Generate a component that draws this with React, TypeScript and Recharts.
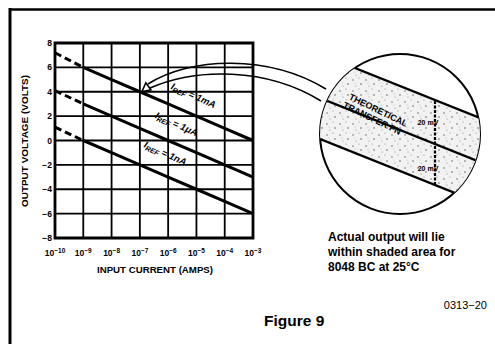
import React from "react";
import { LineChart, Line, XAxis, YAxis, CartesianGrid, ReferenceArea, ReferenceDot } from "recharts";

// Input current exponents (10^x A)
const exps = [-10, -9, -8, -7, -6, -5, -4, -3];
// Output voltage (V) for each IREF
const vRef1mA = [7.2, 6, 5, 4, 3, 2, 1, 0];
const vRef1uA = [4.1, 3, 2, 1, 0, -1, -2, -3];
const vRef1nA = [1.1, 0, -1, -2, -3, -4, -5, -6];
const yTicks = [-8, -6, -4, -2, 0, 2, 4, 6, 8];
const labels = [
  { name: "1mA", x: -5.15, y: 3.45 },
  { name: "1\u03bcA", x: -5.75, y: 1.1 },
  { name: "1nA", x: -6.15, y: -1.3 },
];

const rows = exps.map((e, i) => ({
  x: e,
  mAd: i <= 1 ? vRef1mA[i] : null,
  mAs: i >= 1 ? vRef1mA[i] : null,
  uAd: i <= 1 ? vRef1uA[i] : null,
  uAs: i >= 1 ? vRef1uA[i] : null,
  nAd: i <= 1 ? vRef1nA[i] : null,
  nAs: i >= 1 ? vRef1nA[i] : null,
}));

const FONT = "'Liberation Sans', Arial, Helvetica, sans-serif";

const XTick = (p: any) => {
  const n = Math.abs(p.payload.value);
  return (
    <text x={p.x} y={p.y + 10} textAnchor="middle" fontFamily={FONT} fontWeight="bold" fontSize={8.5} fill="#000">
      10
      <tspan dy={-3.5} fontSize={6.5}>{"\u2212" + n}</tspan>
    </text>
  );
};

const YTick = (p: any) => {
  const v = p.payload.value;
  const s = v < 0 ? "\u2212" + Math.abs(v) : String(v);
  return (
    <text x={p.x + 1} y={p.y + 3} textAnchor="end" fontFamily={FONT} fontWeight="bold" fontSize={8.5} fill="#000">
      {s}
    </text>
  );
};

const makeLabel = (name: string) => (p: any) => (
  <text
    transform={`translate(${p.cx},${p.cy}) rotate(24)`}
    textAnchor="middle"
    fontFamily={FONT}
    fontWeight="bold"
    fontStyle="italic"
    fontSize={9.5}
    fill="#000"
  >
    I<tspan dy={2} fontSize={7}>REF</tspan>
    <tspan dy={-2}>{" = " + name}</tspan>
  </text>
);

const Tri = (p: any) => (
  <polygon
    points={`${p.cx + 2},${p.cy} ${p.cx + 11},${p.cy - 2} ${p.cx + 6},${p.cy - 9}`}
    fill="#fff"
    stroke="#000"
    strokeWidth={1.6}
  />
);

export default function App() {
  const sw = 3;
  const dash = "7 4";
  return (
    <div style={{ position: "absolute", left: 0, top: 0, width: 495, height: 344, background: "#fff" }}>
      <LineChart width={495} height={344} data={rows} margin={{ top: 43, right: 242, bottom: 76, left: 15 }}>
        <CartesianGrid stroke="#000" strokeWidth={1.8} />
        <XAxis
          dataKey="x"
          type="number"
          domain={[-10, -3]}
          ticks={exps}
          tick={<XTick />}
          axisLine={false}
          tickLine={false}
          height={30}
          interval={0}
        />
        <YAxis
          type="number"
          domain={[-8, 8]}
          ticks={yTicks}
          tick={<YTick />}
          axisLine={false}
          tickLine={false}
          width={40}
          tickSize={0}
          tickMargin={4}
          interval={0}
        />
        <ReferenceArea x1={-10} x2={-3} y1={-8} y2={8} fill="none" stroke="#000" strokeWidth={2.8} />
        <Line dataKey="mAd" stroke="#000" strokeWidth={sw} strokeDasharray={dash} dot={false} isAnimationActive={false} />
        <Line dataKey="mAs" stroke="#000" strokeWidth={sw} dot={false} isAnimationActive={false} />
        <Line dataKey="uAd" stroke="#000" strokeWidth={sw} strokeDasharray={dash} dot={false} isAnimationActive={false} />
        <Line dataKey="uAs" stroke="#000" strokeWidth={sw} dot={false} isAnimationActive={false} />
        <Line dataKey="nAd" stroke="#000" strokeWidth={sw} strokeDasharray={dash} dot={false} isAnimationActive={false} />
        <Line dataKey="nAs" stroke="#000" strokeWidth={sw} dot={false} isAnimationActive={false} />
        {labels.map((l) => (
          <ReferenceDot key={l.name} x={l.x} y={l.y} r={0} shape={makeLabel(l.name)} />
        ))}
        <ReferenceDot x={-7} y={4} r={0} shape={Tri} />
      </LineChart>
      <svg
        width={495}
        height={344}
        style={{ position: "absolute", left: 0, top: 0, pointerEvents: "none" }}
      >
        <defs>
          <clipPath id="circ">
            <circle cx={400} cy={134} r={80} />
          </clipPath>
          <pattern id="stip" width={13} height={11} patternUnits="userSpaceOnUse">
            <rect width={13} height={11} fill="#f2f2f2" />
            <circle cx={2} cy={3} r={0.7} fill="#555" />
            <circle cx={8} cy={1} r={0.5} fill="#777" />
            <circle cx={10} cy={7} r={0.7} fill="#444" />
            <circle cx={5} cy={9} r={0.5} fill="#777" />
            <circle cx={4} cy={6} r={0.4} fill="#888" />
          </pattern>
        </defs>
        {/* frame */}
        <line x1={9} y1={9.5} x2={495} y2={9.5} stroke="#000" strokeWidth={2.5} />
        <line x1={10} y1={8} x2={10} y2={344} stroke="#000" strokeWidth={3} />
        {/* callout curves */}
        <path d="M148,84 C190,57 268,54 326,89" fill="none" stroke="#000" strokeWidth={1.6} />
        <path d="M150,88 C196,68 266,67 321,101" fill="none" stroke="#000" strokeWidth={1.6} />
        {/* inset */}
        <circle cx={400} cy={134} r={80} fill="#fff" stroke="#000" strokeWidth={2} />
        <g clipPath="url(#circ)">
          <polygon points="300,46 500,126 500,211 300,131" fill="url(#stip)" />
          <line x1={300} y1={46} x2={500} y2={126} stroke="#000" strokeWidth={2.2} />
          <line x1={300} y1={90} x2={500} y2={170} stroke="#000" strokeWidth={2.4} />
          <line x1={300} y1={131} x2={500} y2={211} stroke="#000" strokeWidth={2.2} />
        </g>
        <line x1={435} y1={101} x2={435} y2={185} stroke="#000" strokeWidth={2.2} strokeDasharray="3 1.5" />
        <text x={428} y={125} textAnchor="middle" fontFamily={FONT} fontWeight="bold" fontSize={7} fill="#000">20 mV</text>
        <text x={428} y={171} textAnchor="middle" fontFamily={FONT} fontWeight="bold" fontSize={7} fill="#000">20 mV</text>
        <g transform="translate(377,113) rotate(26)">
          <text x={0} y={0} textAnchor="middle" fontFamily={FONT} fontWeight="bold" fontSize={9} fill="#000">THEORETICAL</text>
          <text x={-2} y={10} textAnchor="middle" fontFamily={FONT} fontWeight="bold" fontSize={9} fill="#000">TRANSFER FN</text>
        </g>
        {/* axis titles */}
        <text
          transform="translate(28,141) rotate(-90)"
          textAnchor="middle"
          fontFamily={FONT}
          fontWeight="bold"
          fontSize={8.5}
          textLength={132}
          lengthAdjust="spacingAndGlyphs"
          fill="#000"
        >
          OUTPUT VOLTAGE (VOLTS)
        </text>
        <text
          x={155}
          y={273}
          textAnchor="middle"
          fontFamily={FONT}
          fontWeight="bold"
          fontSize={8.5}
          textLength={116}
          lengthAdjust="spacingAndGlyphs"
          fill="#000"
        >
          INPUT CURRENT (AMPS)
        </text>
        {/* note */}
        <g fontFamily={FONT} fontWeight="bold" fontSize={12} fill="#000">
          <text x={328} y={241}>Actual output will lie</text>
          <text x={328} y={256}>within shaded area for</text>
          <text x={328} y={271}>8048 BC at 25°C</text>
        </g>
        <text x={487} y={309} textAnchor="end" fontFamily={FONT} fontSize={11} fill="#000">0313−20</text>
        <text x={264} y={326} fontFamily={FONT} fontWeight="bold" fontSize={15.5} fill="#000">Figure 9</text>
      </svg>
    </div>
  );
}
